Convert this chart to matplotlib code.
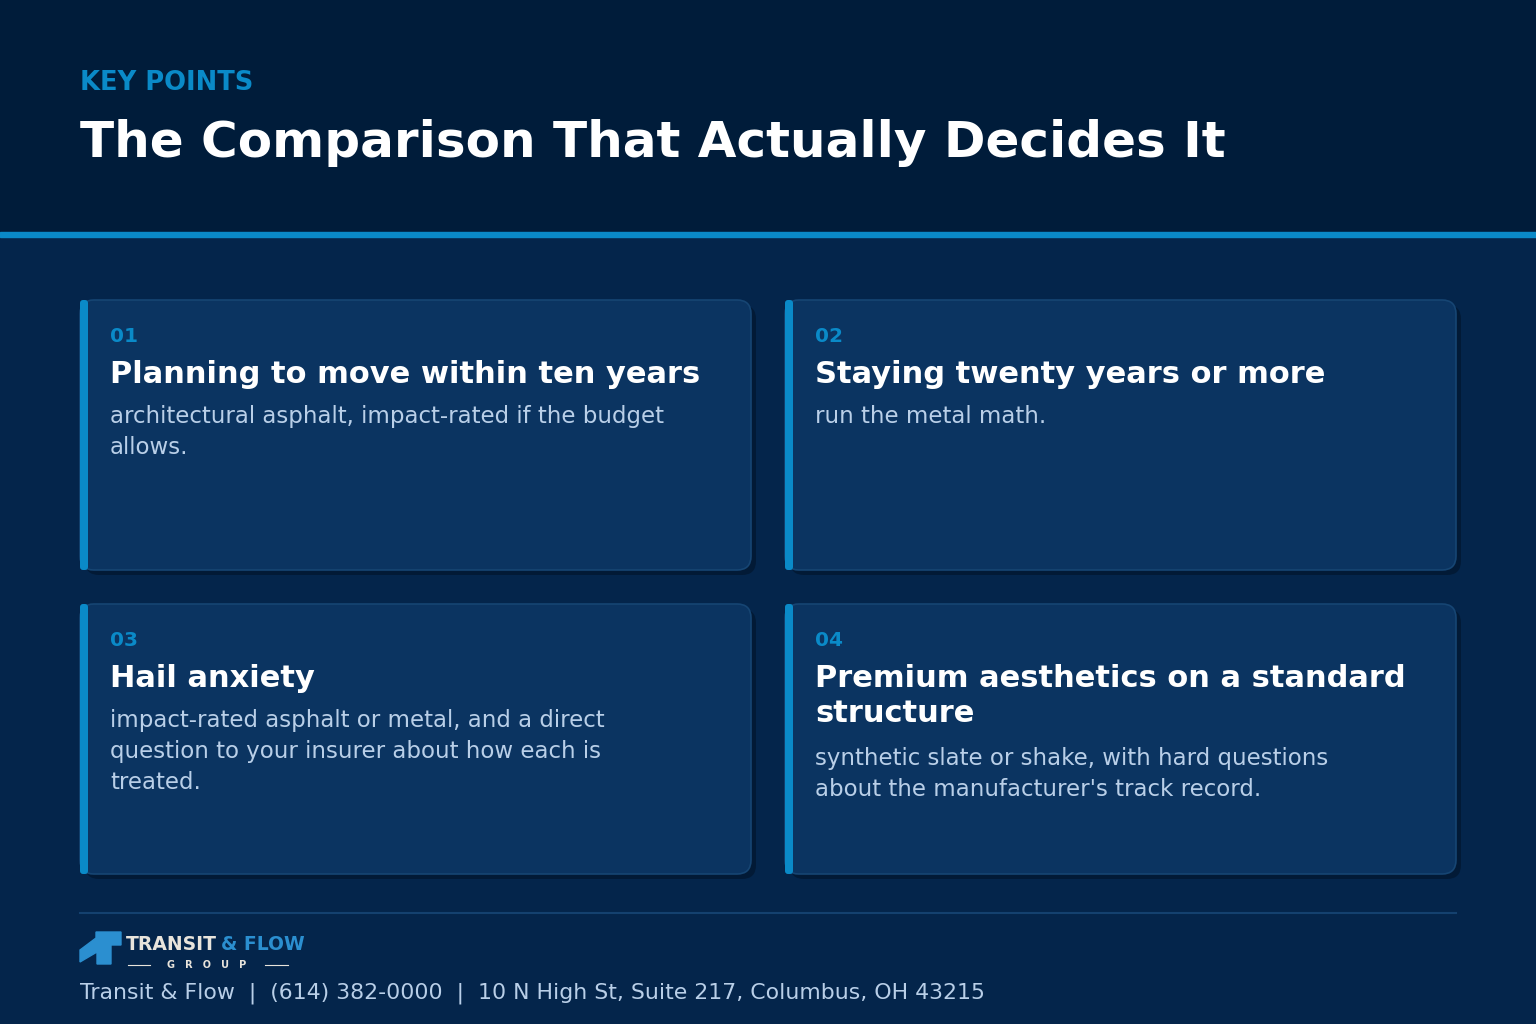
import matplotlib
matplotlib.use("Agg")
import matplotlib.pyplot as plt
from matplotlib.patches import FancyBboxPatch, Rectangle, Polygon

plt.rcParams['font.family'] = ['DejaVu Sans']

eyebrow = "KEY POINTS"
title = "The Comparison That Actually Decides It"
numbers = ["01", "02", "03", "04"]
heads = ["Planning to move within ten years", "Staying twenty years or more",
         "Hail anxiety", "Premium aesthetics on a standard\nstructure"]
bodies = ["architectural asphalt, impact-rated if the budget\nallows.",
          "run the metal math.",
          "impact-rated asphalt or metal, and a direct\nquestion to your insurer about how each is\ntreated.",
          "synthetic slate or shake, with hard questions\nabout the manufacturer's track record."]
footer = "Transit & Flow  |  (614) 382-0000  |  10 N High St, Suite 217, Columbus, OH 43215"

BG = "#04254b"; HDR = "#001c3a"; CARD = "#0b3461"; ACC = "#0a8ac8"
BODY = "#b9cfe8"

fig = plt.figure(figsize=(15.36, 10.24), dpi=100)
ax = fig.add_axes([0, 0, 1, 1])
ax.set_xlim(0, 1536); ax.set_ylim(1024, 0); ax.axis("off")
fig.patch.set_facecolor(BG)

ax.add_patch(Rectangle((0, 0), 1536, 233, color=HDR, zorder=0))
ax.add_patch(Rectangle((0, 232), 1536, 5, color=ACC, zorder=1))
ax.text(80, 83, eyebrow, color=ACC, fontsize=18.5, fontweight="bold", va="center")
ax.text(80, 143, title, color="white", fontsize=36, fontweight="bold", va="center")

pos = [(80, 300), (785, 300), (80, 604), (785, 604)]
w, h = 671, 270
for (x, y), n, hd, bd in zip(pos, numbers, heads, bodies):
    ax.add_patch(FancyBboxPatch((x + 5, y + 5), w, h, boxstyle="round,pad=0,rounding_size=14",
                                fc="#021a36", ec="none", zorder=1))
    ax.add_patch(FancyBboxPatch((x, y), w, h, boxstyle="round,pad=0,rounding_size=14",
                                fc=CARD, ec="#164573", lw=1.2, zorder=2))
    ax.add_patch(FancyBboxPatch((x, y), 8, h, boxstyle="round,pad=0,rounding_size=3",
                                fc=ACC, ec="none", zorder=3))
    ax.text(x + 30, y + 36, n, color=ACC, fontsize=14.5, fontweight="bold", va="center", zorder=4)
    ax.text(x + 30, y + 60, hd, color="white", fontsize=22, fontweight="bold", va="top",
            linespacing=1.28, zorder=4)
    nl = hd.count("\n")
    ax.text(x + 30, y + 105 + nl * 38, bd, color=BODY, fontsize=16.5, va="top",
            linespacing=1.45, zorder=4)

ax.plot([80, 1456], [913, 913], color="#14416f", lw=1.5)
# logo
ax.add_patch(Polygon([(80, 950), (96, 938), (96, 932), (121, 932), (121, 945), (111, 945),
                      (111, 964), (97, 964), (97, 952), (80, 962)], color="#2b8fd0"))
t1 = ax.text(126, 944, "TRANSIT", color="#e8e4dc", fontsize=13.5, fontweight="bold", va="center")
fig.canvas.draw()
xr = t1.get_window_extent().x1 + 4
t2 = ax.annotate("& FLOW", xy=(xr, 944), xycoords=("figure pixels", "data"),
                 color="#2b8fd0", fontsize=13.5, fontweight="bold", va="center",
                 annotation_clip=False)
ax.text(207, 965, "G   R   O   U   P", color="#e8e4dc", fontsize=7, fontweight="bold",
        va="center", ha="center")
ax.plot([128, 150], [965, 965], color="#e8e4dc", lw=0.8)
ax.plot([265, 288], [965, 965], color="#e8e4dc", lw=0.8)
ax.text(80, 993, footer, color=BODY, fontsize=15.8, va="center")

fig.savefig("out.png", dpi=100, facecolor=fig.get_facecolor())
